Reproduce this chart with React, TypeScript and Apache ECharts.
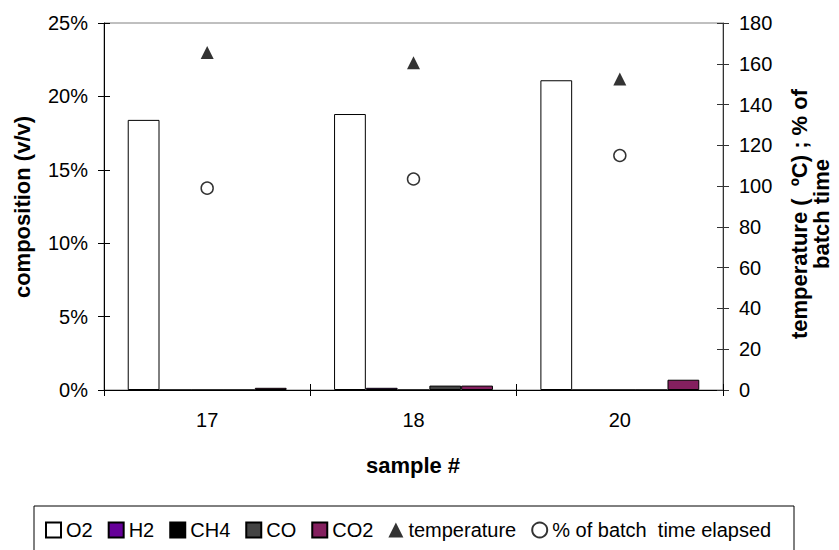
import React, { useEffect, useRef } from "react";
import * as echarts from "echarts";

// Gas composition per sample (% v/v) and process readings
const samples = ["17", "18", "20"];
const o2 = [18.4, 18.8, 21.1];
const h2 = [0, 0.15, 0];
const ch4 = [0, 0, 0];
const co = [0, 0.3, 0];
const co2 = [0.15, 0.3, 0.7];
const temperature = [165.5, 160.5, 152.5];
const batchTimeElapsed = [99, 103.5, 115];

const FONT = '"Liberation Sans", Arial, sans-serif';

const barSeries = [
  { name: "O2", data: o2, color: "#ffffff" },
  { name: "H2", data: h2, color: "#660099" },
  { name: "CH4", data: ch4, color: "#000000" },
  { name: "CO", data: co, color: "#444444" },
  { name: "CO2", data: co2, color: "#84205f" },
];

export default function App() {
  const ref = useRef<HTMLDivElement>(null);

  useEffect(() => {
    if (!ref.current) return;
    const chart = echarts.init(ref.current, null, { renderer: "svg" });

    const label = { color: "#000", fontFamily: FONT, fontSize: 20 };
    const title = {
      fontFamily: FONT,
      fontSize: 22,
      fontWeight: "bold",
      fill: "#000",
      textAlign: "center",
      textVerticalAlign: "middle",
    };

    const option = {
      animation: false,
      backgroundColor: "#ffffff",
      grid: {
        left: 104,
        right: 116,
        top: 23,
        bottom: 160,
        show: true,
        borderColor: "#808080",
        borderWidth: 1,
      },
      xAxis: [
        {
          type: "category",
          data: samples,
          boundaryGap: true,
          axisLine: { lineStyle: { color: "#000", width: 1 } },
          axisTick: { show: true, inside: false, length: 6, lineStyle: { color: "#000" } },
          axisLabel: { ...label, margin: 20 },
          splitLine: { show: false },
        },
        {
          type: "category",
          data: samples,
          position: "bottom",
          boundaryGap: true,
          axisLine: { show: false },
          axisTick: { show: true, inside: true, length: 6, lineStyle: { color: "#000" } },
          axisLabel: { show: false },
          splitLine: { show: false },
        },
      ],
      yAxis: [
        {
          type: "value",
          position: "left",
          min: 0,
          max: 25,
          interval: 5,
          axisLine: { show: true, lineStyle: { color: "#000", width: 1 } },
          axisTick: { show: true, inside: false, length: 6, lineStyle: { color: "#000" } },
          axisLabel: { ...label, margin: 16, formatter: (v: number) => `${v}%` },
          splitLine: { show: false },
        },
        {
          type: "value",
          position: "right",
          min: 0,
          max: 180,
          interval: 20,
          axisLine: { show: true, lineStyle: { color: "#333", width: 1 } },
          axisTick: { show: true, inside: false, length: 6, lineStyle: { color: "#333" } },
          axisLabel: { ...label, margin: 16 },
          splitLine: { show: false },
        },
        {
          type: "value",
          position: "left",
          min: 0,
          max: 25,
          interval: 5,
          axisLine: { show: false },
          axisTick: { show: true, inside: true, length: 6, lineStyle: { color: "#000" } },
          axisLabel: { show: false },
          splitLine: { show: false },
        },
        {
          type: "value",
          position: "right",
          min: 0,
          max: 180,
          interval: 20,
          axisLine: { show: false },
          axisTick: { show: true, inside: true, length: 6, lineStyle: { color: "#333" } },
          axisLabel: { show: false },
          splitLine: { show: false },
        },
      ],
      legend: {
        left: 40,
        top: 515,
        orient: "horizontal",
        itemWidth: 15,
        itemHeight: 15,
        itemGap: 15,
        textStyle: { color: "#000", fontFamily: FONT, fontSize: 20 },
        data: [
          ...barSeries.map((s) => ({ name: s.name, icon: "rect" })),
          { name: "temperature", icon: "triangle" },
          { name: "% of batch  time elapsed", icon: "circle" },
        ],
      },
      graphic: [
        {
          type: "rect",
          shape: { x: 34, y: 506, width: 760, height: 60 },
          style: { fill: "none", stroke: "#000", lineWidth: 1 },
          silent: true,
        },
        {
          type: "text",
          x: 22,
          y: 207,
          rotation: Math.PI / 2,
          style: { ...title, text: "composition (v/v)" },
        },
        {
          type: "text",
          x: 810,
          y: 214,
          rotation: Math.PI / 2,
          style: { ...title, text: "temperature (  ºC) ; % of\nbatch time", lineHeight: 22 },
        },
        {
          type: "text",
          x: 413,
          y: 465,
          style: { ...title, text: "sample #" },
        },
      ],
      series: [
        ...barSeries.map((s) => ({
          name: s.name,
          type: "bar",
          xAxisIndex: 0,
          yAxisIndex: 0,
          data: s.data,
          barGap: "0%",
          barCategoryGap: "23%",
          itemStyle: { color: s.color, borderColor: "#000", borderWidth: 1 },
        })),
        {
          name: "temperature",
          type: "scatter",
          xAxisIndex: 0,
          yAxisIndex: 1,
          data: temperature,
          symbol: "triangle",
          symbolSize: 13,
          itemStyle: { color: "#000" },
          z: 5,
        },
        {
          name: "% of batch  time elapsed",
          type: "scatter",
          xAxisIndex: 0,
          yAxisIndex: 1,
          data: batchTimeElapsed,
          symbol: "circle",
          symbolSize: 12,
          itemStyle: { color: "#fff", borderColor: "#000", borderWidth: 1.5 },
          z: 5,
        },
      ],
    };

    chart.setOption(option as any);
    return () => chart.dispose();
  }, []);

  return (
    <div
      ref={ref}
      style={{ position: "fixed", left: 0, top: 0, width: 839, height: 550, background: "#fff" }}
    />
  );
}
